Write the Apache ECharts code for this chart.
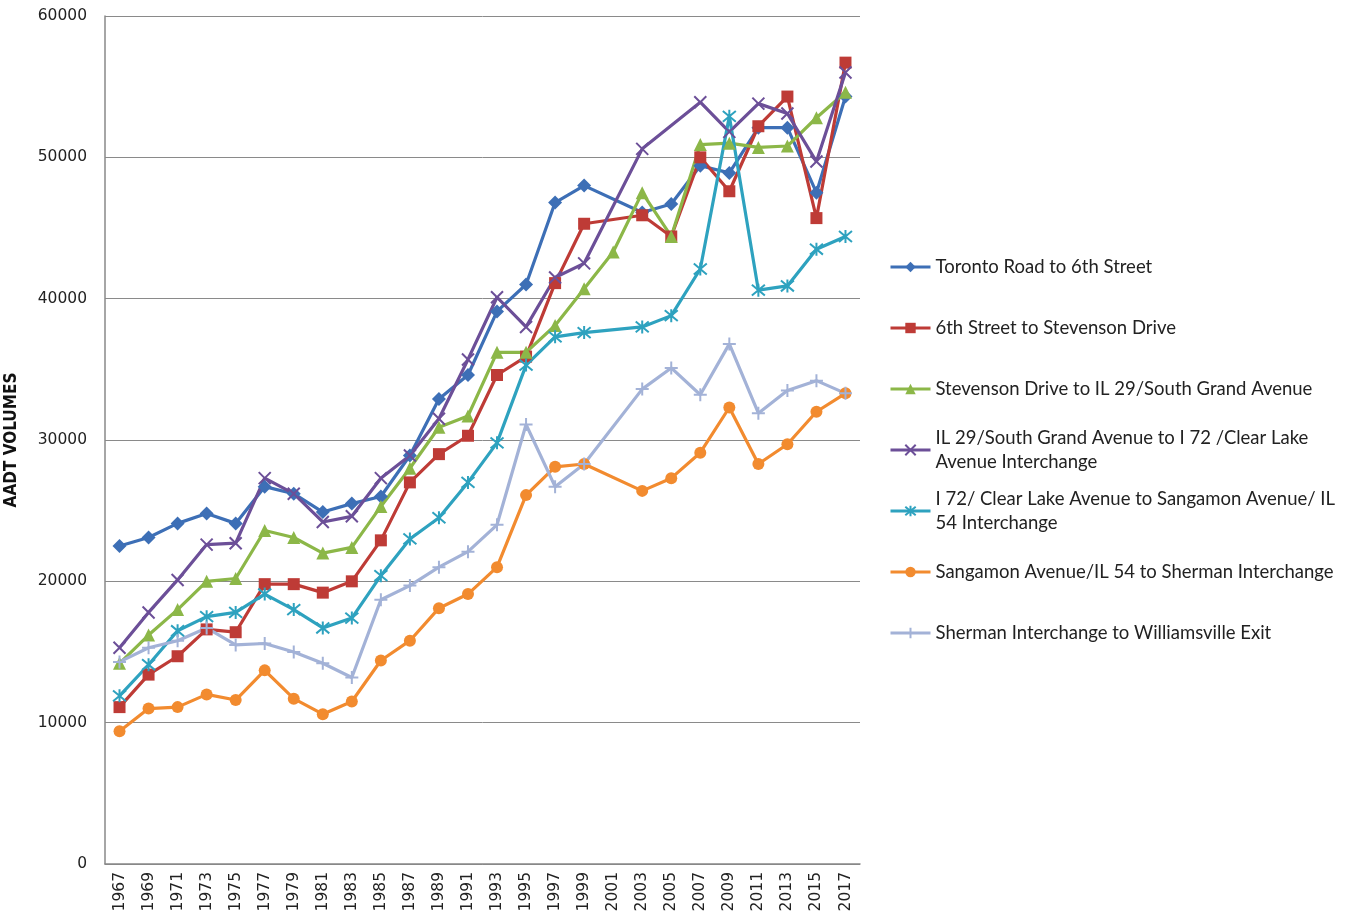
<!DOCTYPE html>
<html>
<head>
<meta charset="utf-8">
<title>AADT Volumes</title>
<script src="https://cdn.jsdelivr.net/npm/echarts@6/dist/echarts.min.js"></script>
<style>
  html, body { margin: 0; padding: 0; background: #ffffff; }
  #chart { width: 1351px; height: 921px; }
</style>
</head>
<body>
<div id="chart"></div>
<script>
// Count years, every second year 1967-2017
const years = ['1967','1969','1971','1973','1975','1977','1979','1981','1983','1985','1987','1989','1991','1993','1995','1997','1999','2001','2003','2005','2007','2009','2011','2013','2015','2017'];

// Average annual daily traffic by segment (null = no count that year)
const torontoTo6th      = [22500,23100,24100,24800,24100,26700,26200,24900,25500,26000,28900,32900,34600,39100,41000,46800,48000,null,46100,46700,49400,48900,52100,52100,47500,54300];
const sixthToStevenson  = [11100,13400,14700,16600,16400,19800,19800,19200,20000,22900,27000,29000,30300,34600,35900,41100,45300,null,45900,44400,50000,47600,52200,54300,45700,56700];
const stevensonToIL29   = [14200,16200,18000,20000,20200,23600,23100,22000,22400,25300,28000,30900,31700,36200,36200,38100,40700,43300,47500,44400,50900,51000,50700,50800,52800,54600];
const il29ToI72         = [15300,17800,20100,22600,22700,27300,26200,24200,24600,27300,28900,31500,35700,40100,38000,41500,42500,null,50600,null,53900,51800,53800,53100,49700,56000];
const i72ToSangamon     = [11900,14100,16500,17500,17800,19100,18000,16700,17400,20400,23000,24500,27000,29800,35300,37300,37600,null,38000,38800,42100,52900,40600,40900,43500,44400];
const sangamonToSherman = [9400,11000,11100,12000,11600,13700,11700,10600,11500,14400,15800,18100,19100,21000,26100,28100,28300,null,26400,27300,29100,32300,28300,29700,32000,33300];
const shermanToWilliams = [14300,15300,15800,16700,15500,15600,15000,14200,13200,18700,19700,21000,22100,24000,31100,26700,28300,null,33600,35100,33200,36800,31900,33500,34200,33300];

const seriesNames = [
  'Toronto Road to 6th Street',
  '6th Street to Stevenson Drive',
  'Stevenson Drive to IL 29/South Grand Avenue',
  'IL 29/South Grand Avenue to I 72 /Clear Lake Avenue Interchange',
  'I 72/ Clear Lake Avenue to Sangamon Avenue/ IL 54 Interchange',
  'Sangamon Avenue/IL 54 to Sherman Interchange',
  'Sherman Interchange to Williamsville Exit'
];
const seriesData = [torontoTo6th, sixthToStevenson, stevensonToIL29, il29ToI72, i72ToSangamon, sangamonToSherman, shermanToWilliams];

// Wrapped legend text for the two long names
const legendText = {
  'IL 29/South Grand Avenue to I 72 /Clear Lake Avenue Interchange': 'IL 29/South Grand Avenue to I 72 /Clear Lake\nAvenue Interchange',
  'I 72/ Clear Lake Avenue to Sangamon Avenue/ IL 54 Interchange': 'I 72/ Clear Lake Avenue to Sangamon Avenue/ IL\n54 Interchange'
};

const colors = ['#3d6fb6', '#be3b36', '#8cb748', '#6c4f98', '#2ea2bf', '#f28b2f', '#a3b2d7'];
const symbols = [
  'diamond',
  'rect',
  'triangle',
  'path://M0,0L10,10M10,0L0,10',
  'path://M0,0L10,10M10,0L0,10M5,-1L5,11',
  'circle',
  'path://M5,0L5,10M0,5L10,5'
];
const symbolSizes = [14, 12, 13, 12, 13, 12, 13];
const strokedSymbol = [false, false, false, true, true, false, true];

const series = seriesNames.map((name, i) => ({
  name: name,
  type: 'line',
  data: seriesData[i],
  connectNulls: true,
  symbol: symbols[i],
  symbolSize: symbolSizes[i],
  showAllSymbol: true,
  lineStyle: { color: colors[i], width: 3.2 },
  itemStyle: strokedSymbol[i]
    ? { color: colors[i], borderColor: colors[i], borderWidth: 2 }
    : { color: colors[i], borderColor: colors[i], borderWidth: 0 },
  emphasis: { disabled: true },
  animation: false
}));

// One legend block per series so each entry sits on its own row
const legendRows = [267, 328, 389, 450, 511, 572, 633];
const legends = seriesNames.map((name, i) => {
  const twoLine = !!legendText[name];
  return {
    data: [name],
    left: 889,
    top: twoLine ? legendRows[i] - 36 : legendRows[i] - 12,
    orient: 'vertical',
    itemWidth: 40,
    itemHeight: 13,
    itemGap: 0,
    padding: 0,
    selectedMode: false,
    lineStyle: { width: 3 },
    formatter: n => legendText[n] || n,
    textStyle: {
      fontFamily: 'Lato',
      fontSize: 18.5,
      color: '#222',
      lineHeight: 24,
      padding: twoLine ? [24, 0, 0, 0] : 0
    }
  };
});

const chart = echarts.init(document.getElementById('chart'), null, { renderer: 'canvas' });
chart.setOption({
  backgroundColor: '#ffffff',
  animation: false,
  color: colors,
  grid: { left: 105, right: 491, top: 16, bottom: 57, containLabel: false, outerBoundsMode: 'none' },
  legend: legends,
  xAxis: {
    type: 'category',
    data: years,
    boundaryGap: true,
    axisLine: { show: true, lineStyle: { color: '#888', width: 1.5 } },
    axisTick: { show: false },
    axisLabel: {
      rotate: 90,
      interval: 0,
      margin: 8,
      fontFamily: 'DejaVu Sans',
      fontSize: 15.5,
      color: '#222'
    },
    splitLine: { show: false }
  },
  yAxis: {
    type: 'value',
    min: 0,
    max: 60000,
    interval: 10000,
    name: 'AADT VOLUMES',
    nameLocation: 'middle',
    nameRotate: 90,
    nameGap: 85,
    nameTextStyle: {
      fontFamily: '"DejaVu Sans Condensed", "Liberation Sans", sans-serif',
      fontWeight: 'bold',
      fontSize: 17,
      color: '#111'
    },
    axisLine: { show: true, lineStyle: { color: '#888', width: 1.5 } },
    axisTick: { show: false },
    axisLabel: {
      margin: 18,
      fontFamily: 'DejaVu Sans',
      fontSize: 15.5,
      color: '#222',
      formatter: v => String(v)
    },
    splitLine: { show: true, lineStyle: { color: '#8a8a8a', width: 1 } }
  },
  series: series
});
</script>
</body>
</html>
